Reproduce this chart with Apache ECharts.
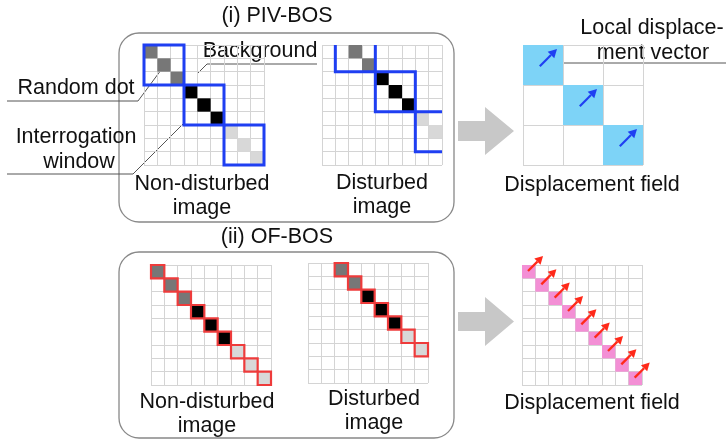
<!DOCTYPE html>
<html lang="en">
<head>
  <meta charset="UTF-8">
  <title>PIV-BOS / OF-BOS</title>
  <script src="https://cdn.jsdelivr.net/npm/echarts@6/dist/echarts.min.js"></script>
</head>
<body style="margin:0">
<div id="main" style="width: 726px;height:441px;"></div>
<script type="text/javascript">

const myChart = echarts.init(document.getElementById('main'));

// dot shades: 0 = gray, 1 = black, 2 = light gray
const shades = ['#777777', '#000000', '#d8d8d8'];

// random dots in the non-disturbed image: [col, row, shade]
const dotsStill = [[0, 0, 0], [1, 1, 0], [2, 2, 0], [3, 3, 1], [4, 4, 1], [5, 5, 1], [6, 6, 2], [7, 7, 2], [8, 8, 2]];
// the same dots in the disturbed image
const dotsShifted = [[2, 0, 0], [3, 1, 0], [4, 2, 1], [5, 3, 1], [6, 4, 1], [7, 5, 2], [8, 6, 2]];
// interrogation windows (3x3 cells), top-left cell [col, row]
const windowsStill = [[0, 0], [3, 3], [6, 6]];
const windowsShifted = [[1, -1], [4, 2], [7, 5]];
// displacement vectors [col, row, dx, dy] (cells, dy up)
const pivVectors = [[0, 0, 0.43, 0.43], [1, 1, 0.43, 0.43], [2, 2, 0.43, 0.43]];
const ofVectors = [[0, 0, 1.13, 1.13], [1, 1, 1.13, 1.13], [2, 2, 1.13, 1.13], [3, 3, 1.13, 1.13], [4, 4, 1.13, 1.13],
  [5, 5, 1.13, 1.13], [6, 6, 1.13, 1.13], [7, 7, 1.13, 1.13], [8, 8, 1.13, 1.13]];

const panels = [
  {left: 144, top: 45, n: 9},   // PIV non-disturbed
  {left: 322, top: 45, n: 9},   // PIV disturbed
  {left: 523, top: 45, n: 3},   // PIV displacement field
  {left: 151, top: 265, n: 9},  // OF non-disturbed
  {left: 308, top: 263, n: 9},  // OF disturbed
  {left: 522, top: 265, n: 9}   // OF displacement field
];

const FONT = '"Liberation Sans", Arial, sans-serif';
const BLUE = '#1f3ff2';
const RED = '#ff2a1a';

function axis(i, n, inverse) {
  return {
    gridIndex: i, type: 'value', min: 0, max: n, interval: 1, inverse: inverse,
    axisLabel: {show: false}, axisTick: {show: false}, axisLine: {show: false},
    splitLine: {show: true, lineStyle: {color: '#d4d4d4', width: 1}}
  };
}

function cellBox(api, c, r, w, h) {
  const p0 = api.coord([c, r]);
  const p1 = api.coord([c + w, r + h]);
  return {x: p0[0], y: p0[1], width: p1[0] - p0[0], height: p1[1] - p0[1]};
}

function dotRender(outline) {
  return function (params, api) {
    return {
      type: 'rect',
      shape: cellBox(api, api.value(0), api.value(1), 1, 1),
      style: outline
        ? {fill: shades[api.value(2)], stroke: '#ee3b3b', lineWidth: 2.2}
        : {fill: shades[api.value(2)]}
    };
  };
}

function windowRender(params, api) {
  return {
    type: 'rect',
    shape: cellBox(api, api.value(0), api.value(1), 3, 3),
    style: {fill: null, stroke: BLUE, lineWidth: 3}
  };
}

function fillRender(color) {
  return function (params, api) {
    return {type: 'rect', shape: cellBox(api, api.value(0), api.value(1), 1, 1), style: {fill: color}};
  };
}

function arrowRender(color, sx, sy, head, lw) {
  return function (params, api) {
    const c = api.value(0), r = api.value(1);
    const p0 = api.coord([c + sx, r + sy]);
    const p1 = api.coord([c + sx + api.value(2), r + sy - api.value(3)]);
    const ang = Math.atan2(p1[1] - p0[1], p1[0] - p0[0]);
    const ux = Math.cos(ang), uy = Math.sin(ang);
    const bx = p1[0] - ux * head, by = p1[1] - uy * head;
    const w = head * 0.55;
    return {
      type: 'group',
      children: [
        {type: 'line', shape: {x1: p0[0], y1: p0[1], x2: bx, y2: by}, style: {stroke: color, lineWidth: lw}},
        {type: 'polygon', shape: {points: [[p1[0], p1[1]], [bx - uy * w, by + ux * w], [bx + uy * w, by - ux * w]]},
          style: {fill: color}}
      ]
    };
  };
}

function text(str, x, y) {
  return {type: 'text', x: x, y: y, style: {text: str, font: '21.5px ' + FONT, fill: '#111', align: 'center', verticalAlign: 'middle'}};
}

function leader(points) {
  return {type: 'polyline', shape: {points: points}, style: {stroke: '#555', lineWidth: 1, fill: null}};
}

const option = {
  animation: false,
  grid: panels.map(p => ({left: p.left, top: p.top, width: 120, height: 120})),
  xAxis: panels.map((p, i) => axis(i, p.n, false)),
  yAxis: panels.map((p, i) => axis(i, p.n, true)),
  series: [
    {type: 'custom', xAxisIndex: 0, yAxisIndex: 0, data: dotsStill, renderItem: dotRender(false), silent: true, z: 2},
    {type: 'custom', xAxisIndex: 0, yAxisIndex: 0, data: windowsStill, renderItem: windowRender, silent: true, z: 3},
    {type: 'custom', xAxisIndex: 1, yAxisIndex: 1, data: dotsShifted, renderItem: dotRender(false), silent: true, z: 2},
    {type: 'custom', xAxisIndex: 1, yAxisIndex: 1, data: windowsShifted, renderItem: windowRender, clip: true, silent: true, z: 3},
    {type: 'custom', xAxisIndex: 2, yAxisIndex: 2, data: pivVectors, renderItem: fillRender('#7dd3f7'), silent: true, z: 2},
    {type: 'custom', xAxisIndex: 2, yAxisIndex: 2, data: pivVectors, renderItem: arrowRender(BLUE, 0.42, 0.53, 8.5, 2.2), silent: true, z: 3},
    {type: 'custom', xAxisIndex: 3, yAxisIndex: 3, data: dotsStill, renderItem: dotRender(true), silent: true, z: 2},
    {type: 'custom', xAxisIndex: 4, yAxisIndex: 4, data: dotsShifted, renderItem: dotRender(true), silent: true, z: 2},
    {type: 'custom', xAxisIndex: 5, yAxisIndex: 5, data: ofVectors, renderItem: fillRender('#f38fd5'), silent: true, z: 2},
    {type: 'custom', xAxisIndex: 5, yAxisIndex: 5, data: ofVectors, renderItem: arrowRender(RED, 0.45, 0.45, 8, 2.3), silent: true, z: 3}
  ],
  graphic: [
    {type: 'rect', shape: {x: 119, y: 33, width: 335, height: 189, r: 20}, style: {fill: null, stroke: '#888', lineWidth: 1.3}},
    {type: 'rect', shape: {x: 119, y: 252, width: 335, height: 186, r: 20}, style: {fill: null, stroke: '#888', lineWidth: 1.3}},
    {type: 'polygon', shape: {points: [[458, 121], [485, 121], [485, 107], [514, 131], [485, 155], [485, 141], [458, 141]]}, style: {fill: '#c8c8c8'}},
    {type: 'polygon', shape: {points: [[458, 312], [485, 312], [485, 297], [514, 321.5], [485, 346], [485, 331], [458, 331]]}, style: {fill: '#c8c8c8'}},
    text('(i) PIV-BOS', 277, 16),
    text('(ii) OF-BOS', 277, 237),
    text('Background', 260, 51),
    leader([[198, 73], [207, 64], [317, 64]]),
    text('Random dot', 76, 88),
    leader([[7, 101], [138, 101], [164, 66]]),
    text('Interrogation', 76, 137),
    text('window', 79, 162),
    leader([[7, 174], [133, 174], [183, 124]]),
    text('Non-disturbed', 202, 184),
    text('image', 202, 208),
    text('Disturbed', 382, 183),
    text('image', 382, 207),
    text('Local displace-', 652, 28),
    text('ment vector', 653, 53),
    leader([[541, 63], [726, 63]]),
    text('Displacement field', 592, 185),
    text('Non-disturbed', 207, 402),
    text('image', 207, 426),
    text('Disturbed', 374, 399),
    text('image', 374, 423),
    text('Displacement field', 592, 403)
  ]
};
myChart.setOption(option);
</script>
</body>
</html>
